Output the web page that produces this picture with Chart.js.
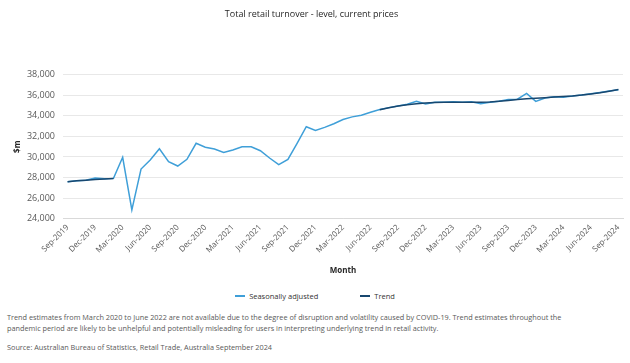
<!DOCTYPE html>
<html>
<head>
<meta charset="utf-8">
<script src="https://cdn.jsdelivr.net/npm/chart.js@4/dist/chart.umd.min.js"></script>
<style>
  body { margin: 0; background: #fff; font-family: "Open Sans", sans-serif; }
  #wrap { position: relative; width: 630px; height: 363px; overflow: hidden; }
  #chart { position: absolute; left: 0; top: 0; }
  #legend { position: absolute; top: 291px; left: 0; width: 630px; display: flex; justify-content: center; gap: 42px; font-size: 7.5px; color: #333; }
  #legend span.item { display: flex; align-items: center; }
  #legend span.swatch { display: inline-block; width: 10px; height: 2px; margin-right: 4px; }
  .note { position: absolute; left: 7px; width: 556px; font-size: 7.3px; line-height: 11px; color: #595959; }
</style>
</head>
<body>
<div id="wrap">
  <canvas id="chart" width="630" height="285"></canvas>
  <div id="legend"></div>
  <div class="note" style="top:312px">Trend estimates from March 2020 to June 2022 are not available due to the degree of disruption and volatility caused by COVID-19. Trend estimates throughout the pandemic period are likely to be unhelpful and potentially misleading for users in interpreting underlying trend in retail activity.</div>
  <div class="note" style="top:342px">Source: Australian Bureau of Statistics, Retail Trade, Australia September 2024</div>
</div>
<script>
const months = [
  'Sep-2019','Oct-2019','Nov-2019','Dec-2019','Jan-2020','Feb-2020','Mar-2020','Apr-2020','May-2020','Jun-2020',
  'Jul-2020','Aug-2020','Sep-2020','Oct-2020','Nov-2020','Dec-2020','Jan-2021','Feb-2021','Mar-2021','Apr-2021',
  'May-2021','Jun-2021','Jul-2021','Aug-2021','Sep-2021','Oct-2021','Nov-2021','Dec-2021','Jan-2022','Feb-2022',
  'Mar-2022','Apr-2022','May-2022','Jun-2022','Jul-2022','Aug-2022','Sep-2022','Oct-2022','Nov-2022','Dec-2022',
  'Jan-2023','Feb-2023','Mar-2023','Apr-2023','May-2023','Jun-2023','Jul-2023','Aug-2023','Sep-2023','Oct-2023',
  'Nov-2023','Dec-2023','Jan-2024','Feb-2024','Mar-2024','Apr-2024','May-2024','Jun-2024','Jul-2024','Aug-2024',
  'Sep-2024'
];

const tickLabels = [
  'Sep-2019','Dec-2019','Mar-2020','Jun-2020','Sep-2020','Dec-2020','Mar-2021','Jun-2021','Sep-2021','Dec-2021',
  'Mar-2022','Jun-2022','Sep-2022','Dec-2022','Mar-2023','Jun-2023','Sep-2023','Dec-2023','Mar-2024','Jun-2024',
  'Sep-2024'
];

const seasAdj = [
  27600, 27680, 27740, 27950, 27880, 27920, 29970, 24850, 28830, 29700,
  30800, 29540, 29120, 29770, 31330, 30950, 30780, 30450, 30680, 31000,
  31000, 30610, 29900, 29250, 29770, 31330, 32940, 32590, 32880, 33230,
  33640, 33900, 34060, 34350, 34620, 34800, 34950, 35120, 35410, 35150,
  35330, 35310, 35370, 35320, 35380, 35170, 35330, 35410, 35600, 35620,
  36190, 35410, 35730, 35860, 35800, 35920, 36030, 36150, 36280, 36420,
  36530
];

const trend = [
  27600, 27680, 27750, 27810, 27860, 27900, null, null, null, null,
  null, null, null, null, null, null, null, null, null, null,
  null, null, null, null, null, null, null, null, null, null,
  null, null, null, null, 34600, 34790, 34950, 35080, 35180, 35250,
  35290, 35310, 35320, 35320, 35310, 35310, 35350, 35420, 35500, 35580,
  35650, 35710, 35760, 35820, 35870, 35930, 36020, 36130, 36250, 36400,
  36550
];

const yTicks = [24000, 26000, 28000, 30000, 32000, 34000, 36000, 38000];

const saColor = '#3f9fd8';
const trendColor = '#18476f';

// legend built from the chart's own legend items, as html under the canvas
const htmlLegend = {
  id: 'htmlLegend',
  afterUpdate(chart) {
    const box = document.getElementById('legend');
    box.innerHTML = '';
    const items = chart.options.plugins.legend.labels.generateLabels(chart);
    items.sort((a, b) => a.datasetIndex - b.datasetIndex);
    items.forEach(item => {
      const el = document.createElement('span');
      el.className = 'item';
      const sw = document.createElement('span');
      sw.className = 'swatch';
      sw.style.background = item.strokeStyle;
      el.appendChild(sw);
      el.appendChild(document.createTextNode(item.text));
      box.appendChild(el);
    });
  }
};

new Chart(document.getElementById('chart'), {
  type: 'line',
  data: {
    labels: months,
    datasets: [{
      label: 'Seasonally adjusted',
      data: seasAdj,
      borderColor: saColor,
      backgroundColor: saColor,
      borderWidth: 1.5,
      pointRadius: 0,
      tension: 0,
      order: 1
    }, {
      label: 'Trend',
      data: trend,
      borderColor: trendColor,
      backgroundColor: trendColor,
      borderWidth: 1.5,
      pointRadius: 0,
      tension: 0,
      spanGaps: false,
      order: 0
    }]
  },
  options: {
    responsive: false,
    animation: false,
    devicePixelRatio: 1,
    layout: { padding: { left: 0, right: 7, top: 0, bottom: 0 } },
    plugins: {
      legend: { display: false },
      tooltip: { enabled: false },
      title: {
        display: true,
        text: 'Total retail turnover - level, current prices',
        color: '#262626',
        font: { family: 'Open Sans', size: 9, weight: 'normal' },
        padding: { top: 9.5, bottom: 54.4 }
      }
    },
    scales: {
      x: {
        offset: true,
        grid: { display: false, drawTicks: false },
        border: { display: true, color: '#d9d9d9' },
        ticks: {
          autoSkip: false,
          maxRotation: 45,
          minRotation: 45,
          padding: 4,
          color: '#595959',
          font: { family: 'Open Sans', size: 8 },
          callback: function (val, idx) {
            const m = months[idx];
            return tickLabels.includes(m) ? m : '';
          }
        },
        title: {
          display: true,
          text: 'Month',
          color: '#262626',
          font: { family: 'Open Sans', size: 8, weight: 'bold' },
          padding: { top: 0, bottom: 9 }
        },
        afterFit: scale => { scale.height = 66.3; }
      },
      y: {
        min: 24000,
        max: 38000,
        grid: { color: '#e8e8e8', drawTicks: false },
        border: { display: false },
        afterBuildTicks: scale => { scale.ticks = yTicks.map(v => ({ value: v })); },
        ticks: {
          padding: 8,
          color: '#595959',
          font: { family: 'Open Sans', size: 9 },
          callback: v => v.toLocaleString('en-US')
        },
        title: {
          display: true,
          text: '$m',
          color: '#262626',
          font: { family: 'Open Sans', size: 8, weight: 'bold' },
          padding: { top: 12.7, bottom: 0 }
        },
        afterFit: scale => { scale.width = 63; }
      }
    }
  },
  plugins: [htmlLegend]
});
</script>
</body>
</html>
